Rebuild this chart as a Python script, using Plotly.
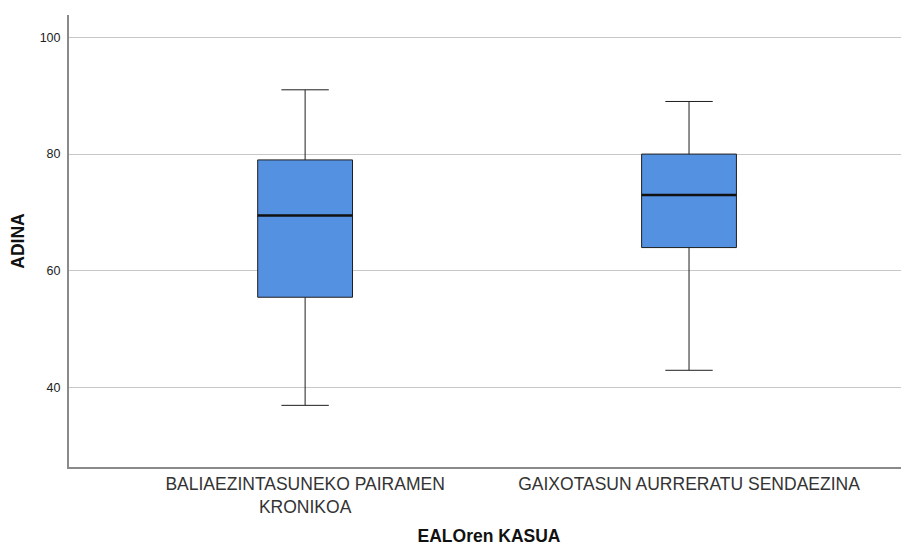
import plotly.graph_objects as go

categories = ["BALIAEZINTASUNEKO PAIRAMEN<br>KRONIKOA", "GAIXOTASUN AURRERATU SENDAEZINA"]
lower_whisker = [37, 43]
q1 = [55.5, 64]
median = [69.5, 73]
q3 = [79, 80]
upper_whisker = [91, 89]
y_ticks = [40, 60, 80, 100]

box_width = 0.247
xs = list(range(len(categories)))

fig = go.Figure()
fig.add_trace(go.Box(
    x=xs, q1=q1, median=median, q3=q3,
    lowerfence=lower_whisker, upperfence=upper_whisker,
    width=box_width, whiskerwidth=0.5,
    fillcolor="#5591E1",
    line=dict(color="#1e1e1e", width=1),
    boxpoints=False, showlegend=False, hoverinfo="skip",
))
for i, m in zip(xs, median):
    fig.add_trace(go.Scatter(
        x=[i - box_width / 2, i + box_width / 2], y=[m, m],
        mode="lines", line=dict(color="#111111", width=2.6),
        showlegend=False, hoverinfo="skip",
    ))

# page body has an 8px margin: compensate so the plot lands where the reference has it
fig.update_layout(
    width=901, height=539,
    margin=dict(l=61, r=0, t=7, b=80, autoexpand=False),
    plot_bgcolor="white", paper_bgcolor="white",
    font=dict(family="Liberation Sans, Arial, sans-serif", color="#222"),
)
fig.update_xaxes(
    tickvals=xs, ticktext=categories,
    range=[-0.615, 1.573],
    showgrid=False, zeroline=False,
    showline=True, linecolor="#8a8a8a", linewidth=2,
    ticks="", tickfont=dict(size=17.5, color="#333"), automargin=True,
    title=dict(text="<b>EALOren KASUA</b>", font=dict(size=17.5, color="#111"), standoff=14),
)
fig.update_yaxes(
    range=[26.45, 103.8],
    tickvals=y_ticks,
    showgrid=True, gridcolor="#c8c8c8", gridwidth=1,
    zeroline=False,
    showline=True, linecolor="#8a8a8a", linewidth=2,
    ticks="", tickfont=dict(size=12.5, color="#222"), ticklabelstandoff=4, automargin=False,
    title=dict(text="<b>ADINA</b>", font=dict(size=17.5, color="#111"), standoff=12),
)
fig.write_html("out.html")
